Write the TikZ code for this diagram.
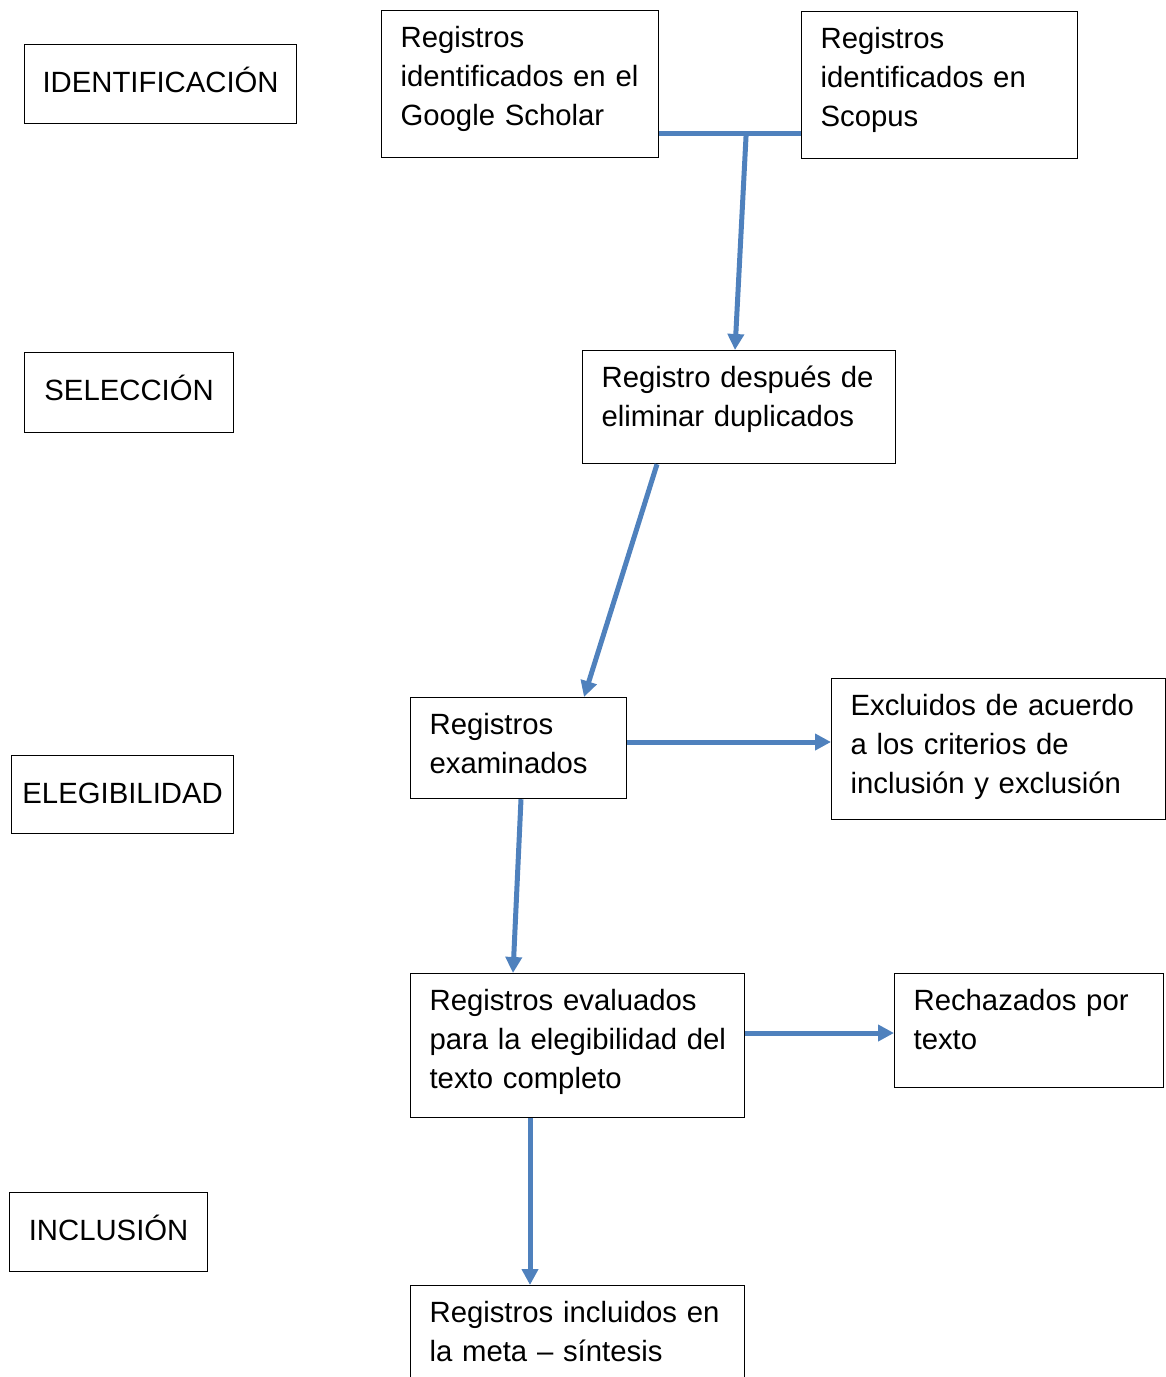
\documentclass[tikz,border=0pt]{standalone}
\usepackage{fontspec}
\setmainfont{Liberation Sans}
\usetikzlibrary{arrows.meta}
\definecolor{azul}{RGB}{79,129,189}

\begin{document}
\begin{tikzpicture}[x=1pt,y=-1pt,
  font=\fontsize{29.3pt}{39pt}\selectfont,
  etapa/.style={draw,line width=1.2pt,anchor=north west,align=center,inner xsep=0pt,inner ysep=0pt,text height=48pt},
  caja/.style={draw,line width=1.2pt,anchor=north west,align=left,inner xsep=19pt,inner ysep=0pt,text height=37pt},
  linea/.style={draw=azul,line width=5pt},
  flecha/.style={linea,-{Triangle[length=16pt,width=16pt]}}]
\useasboundingbox (0,0) rectangle (1166,1377);
\clip (0,0) rectangle (1166,1377);

\foreach \n/\x/\y/\w/\d/\t in {ident/24/44/272/31/IDENTIFICACIÓN,selec/24/352/209/32/SELECCIÓN,elegi/11/755/222/30/ELEGIBILIDAD,inclu/9/1192/198/31/INCLUSIÓN}
{
    \node[etapa,text width=\w pt,text depth=\d pt] (\n) at (\x,\y) {\t};
}

\node[caja,text width=239pt,text depth=110pt] (gs) at (381,10) {Registros\\\mbox{identificados en el}\\Google Scholar};
\node[caja,text width=238pt,text depth=110pt] (sc) at (801,11) {Registros\\identificados en\\Scopus};
\node[caja,text width=275pt,text depth=76pt] (desp) at (582,350) {Registro después de\\eliminar duplicados};
\node[caja,text width=178pt,text depth=64pt] (exam) at (410,697) {Registros\\examinados};
\node[caja,text width=296pt,text depth=104pt] (excl) at (831,678) {Excluidos de acuerdo\\a los criterios de\\inclusión y exclusión};
\node[caja,text width=296pt,text depth=107pt] (eval) at (410,973) {Registros evaluados\\\mbox{para la elegibilidad del}\\texto completo};
\node[caja,text width=231pt,text depth=77pt] (rech) at (894,973) {Rechazados por\\texto};
\node[caja,text width=296pt,text depth=107pt] (incl) at (410,1285) {Registros incluidos en\\la meta -- síntesis};

\coordinate (union) at ([xshift=87pt,yshift=-123pt]gs.north east);
\draw[linea] ([yshift=-123pt]gs.north east) -- ([yshift=-122pt]sc.north west);
\draw[flecha] (union) -- ([xshift=153pt]desp.north west);
\draw[flecha] ([xshift=75pt]desp.south west) -- ([xshift=174pt]exam.north west);
\draw[flecha] ([yshift=-45pt]exam.north east) -- ([yshift=-64pt]excl.north west);
\draw[flecha] ([xshift=111pt]exam.south west) -- ([xshift=103pt]eval.north west);
\draw[flecha] ([yshift=-60pt]eval.north east) -- ([yshift=-60pt]rech.north west);
\draw[flecha] ([xshift=120pt]eval.south west) -- ([xshift=120pt]incl.north west);

\end{tikzpicture}
\end{document}
